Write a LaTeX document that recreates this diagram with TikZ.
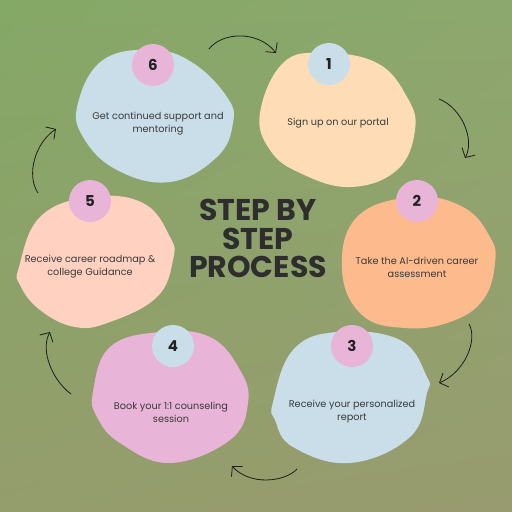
\documentclass[tikz,border=0pt]{standalone}
\usepackage{fontspec}
\setmainfont{Poppins}
\usetikzlibrary{arrows.meta,shadings}
\definecolor{bgUL}{HTML}{84A866}
\definecolor{bgUR}{HTML}{8DA86E}
\definecolor{bgLL}{HTML}{949D6C}
\definecolor{bgLR}{HTML}{989B6F}
\definecolor{blueblob}{HTML}{C9DEE9}
\definecolor{peachblob}{HTML}{FEDDB6}
\definecolor{orangeblob}{HTML}{FDBA8C}
\definecolor{pinkblob}{HTML}{E8B4D8}
\definecolor{salmonblob}{HTML}{FFD1C0}
\definecolor{bodytext}{HTML}{3A3A3A}
\definecolor{numtext}{HTML}{222222}
\definecolor{titletext}{HTML}{2E2E2E}
\definecolor{arrowc}{HTML}{1E1E1E}
\begin{document}
\begin{tikzpicture}[x=1pt,y=-1pt,
  numdisc/.style={circle, minimum size=42pt, inner sep=0pt, font=\fontsize{15}{15}\selectfont\bfseries, text=numtext},
  steptext/.style={align=center, font=\fontsize{9.7}{13}\selectfont, text=bodytext},
  flow/.style={line width=0.8pt, draw=arrowc, -{Straight Barb[length=7pt,width=15pt]}},
  blobfill/.style={smooth cycle, tension=0.7}
]
\useasboundingbox (0,0) rectangle (512,512);
\shade[upper left=bgUL, upper right=bgUR, lower left=bgLL, lower right=bgLR] (0,0) rectangle (512,512);

% blobs
\fill[blueblob] plot[blobfill] coordinates {(78,103) (103,60) (153,50) (193,63) (227,97) (233,123) (217,157) (170,182) (117,170) (83,137)};
\fill[peachblob] plot[blobfill] coordinates {(260,113) (283,63) (323,53) (377,63) (407,97) (415,130) (397,170) (350,187) (300,173) (270,150)};
\fill[orangeblob] plot[blobfill] coordinates {(342,270) (357,217) (413,197) (463,207) (490,237) (495,263) (483,300) (450,322) (405,328) (362,315)};
\fill[blueblob] plot[blobfill] coordinates {(273,402) (293,350) (337,332) (400,340) (427,377) (427,393) (410,437) (350,463) (293,447) (275,420)};
\fill[pinkblob] plot[blobfill] coordinates {(93,392) (110,347) (160,332) (210,337) (240,370) (248,403) (230,440) (170,463) (120,443) (97,417)};
\fill[salmonblob] plot[blobfill] coordinates {(19,267) (40,217) (90,197) (143,203) (170,237) (173,260) (157,297) (110,322) (75,327) (40,310) (20,285)};

% number discs
\node[numdisc, fill=pinkblob] (n6) at (153,65) {6};
\node[numdisc, fill=blueblob] (n1) at (329,64) {1};
\node[numdisc, fill=pinkblob] (n2) at (417,201) {2};
\node[numdisc, fill=pinkblob] (n3) at (352,346) {3};
\node[numdisc, fill=blueblob] (n4) at (173,346) {4};
\node[numdisc, fill=pinkblob] (n5) at (90,201) {5};

% step texts
\node[steptext] (t6) at (158,124) {Get continued support and\\mentoring};
\node[steptext] (t1) at (338,123.5) {Sign up on our portal};
\node[steptext] (t2) at (417,267) {Take the AI-driven career\\assessment};
\node[steptext] (t3) at (352,412) {Receive your personalized\\report};
\node[steptext] (t4) at (171,412) {Book your 1:1 counseling\\session};
\node[steptext] (t5) at (90,267) {Receive career roadmap \&\\college Guidance};

% title
\node[align=center, text=titletext, font=\fontsize{30}{28.5}\selectfont\bfseries] (title) at (258,238.5) {STEP BY\\STEP\\PROCESS};

% arrow end points
\coordinate (a61) at (209,49);  \coordinate (b61) at (276,53);
\coordinate (a12) at (439,99);  \coordinate (b12) at (465,158);
\coordinate (a23) at (469,324); \coordinate (b23) at (439,383);
\coordinate (a34) at (297,469); \coordinate (b34) at (232,466);
\coordinate (a45) at (71,394);  \coordinate (b45) at (50,332);
\coordinate (a56) at (38,193);  \coordinate (b56) at (56,129);

\draw[flow] (a61) .. controls (222,32) and (258,30) .. (b61);
\draw[flow] (a12) .. controls (462,108) and (475,140) .. (b12);
\draw[flow] (a23) .. controls (478,340) and (465,372) .. (b23);
\draw[flow] (a34) .. controls (285,482) and (250,486) .. (b34);
\draw[flow] (a45) .. controls (52,380) and (40,350) .. (b45);
\draw[flow] (a56) .. controls (26,175) and (35,143) .. (b56);
\end{tikzpicture}
\end{document}
